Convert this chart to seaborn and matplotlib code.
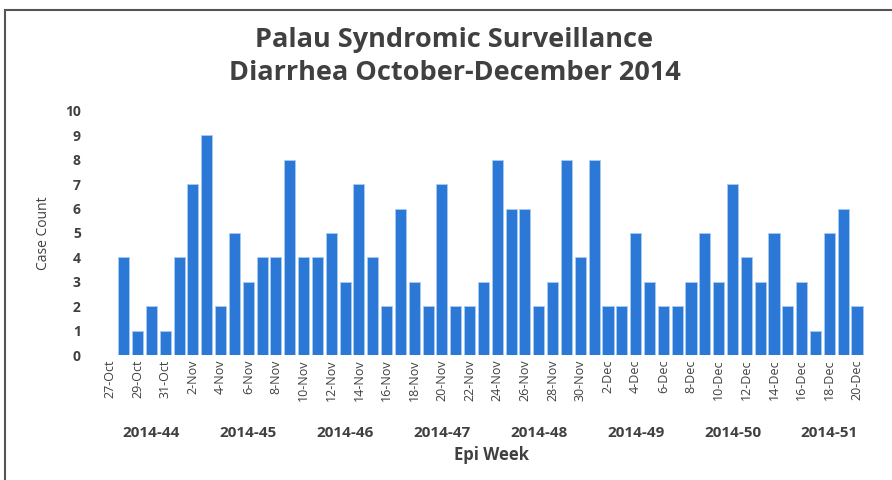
import matplotlib.pyplot as plt
import matplotlib.transforms as mtransforms
from matplotlib.patches import Rectangle
import seaborn as sns
import pandas as pd

# daily diarrhea case counts, 27-Oct-2014 .. 20-Dec-2014 (no bar on 27-Oct)
dates = pd.date_range("2014-10-27", "2014-12-20", freq="D")
day_labels = [f"{d.day}-{d.strftime('%b')}" for d in dates]
counts = [0,
          4, 1, 2, 1, 4, 7, 9, 2, 5, 3, 4, 4, 8, 4, 4, 5, 3, 7, 4, 2,
          6, 3, 2, 7, 2, 2, 3, 8, 6, 6, 2, 3, 8, 4, 8, 2, 2, 5, 3, 2,
          2, 3, 5, 3, 7, 4, 3, 5, 2, 3, 1, 5, 6, 2]
weeks = ["2014-44", "2014-45", "2014-46", "2014-47",
         "2014-48", "2014-49", "2014-50", "2014-51"]

df = pd.DataFrame({"day": day_labels, "count": counts})

sns.set_style("white")
plt.rcParams["font.family"] = ["Open Sans", "DejaVu Sans"]
txt = "#404040"

fig = plt.figure(figsize=(8.92, 4.8), dpi=100)
ax = fig.add_axes([0.1155, 0.2604, 0.853, 0.5086])

sns.barplot(data=df, x="day", y="count", ax=ax, color="#2B78D6",
            saturation=1, width=0.8, edgecolor="#a9cbf0", linewidth=0.6)

ax.set_ylim(0, 10)
ax.set_xlim(-0.5, len(dates) - 0.5)
ax.set_yticks(range(0, 11))
ax.set_yticklabels([str(i) for i in range(0, 11)], fontsize=10,
                   fontweight="bold", color=txt)
ax.set_xticks(range(0, len(dates), 2))
ax.set_xticklabels(day_labels[::2], rotation=90, fontsize=9, color=txt)
ax.tick_params(axis="both", length=0, pad=3)
ax.tick_params(axis="y", pad=16)
for s in ax.spines.values():
    s.set_visible(False)

ax.set_xlabel("")
ax.set_ylabel("Case Count", fontsize=10, color=txt, labelpad=10)

# epi week labels under the day labels
trans = mtransforms.blended_transform_factory(ax.transData, fig.transFigure)
for i, w in enumerate(weeks):
    ax.text(3 + 7 * i, 1 - 433 / 480, w, transform=trans, ha="center",
            va="center", fontsize=11, fontweight="bold", color=txt)
fig.text(491 / 892, 1 - 455 / 480, "Epi Week", ha="center", va="center",
         fontsize=12, fontweight="bold", color=txt)

fig.text(454 / 892, 1 - 40 / 480, "Palau Syndromic Surveillance", ha="center",
         va="center", fontsize=19.5, fontweight="bold", color=txt)
fig.text(455 / 892, 1 - 73 / 480, "Diarrhea October-December 2014", ha="center",
         va="center", fontsize=19.5, fontweight="bold", color=txt)

# chart frame
fig.patches.append(Rectangle((5 / 892, -0.05), 1.0, 1 - 10 / 480 + 0.05,
                             transform=fig.transFigure, fill=False,
                             edgecolor="#555555", linewidth=1.5))

fig.savefig("out.png", dpi=100, facecolor="white")
